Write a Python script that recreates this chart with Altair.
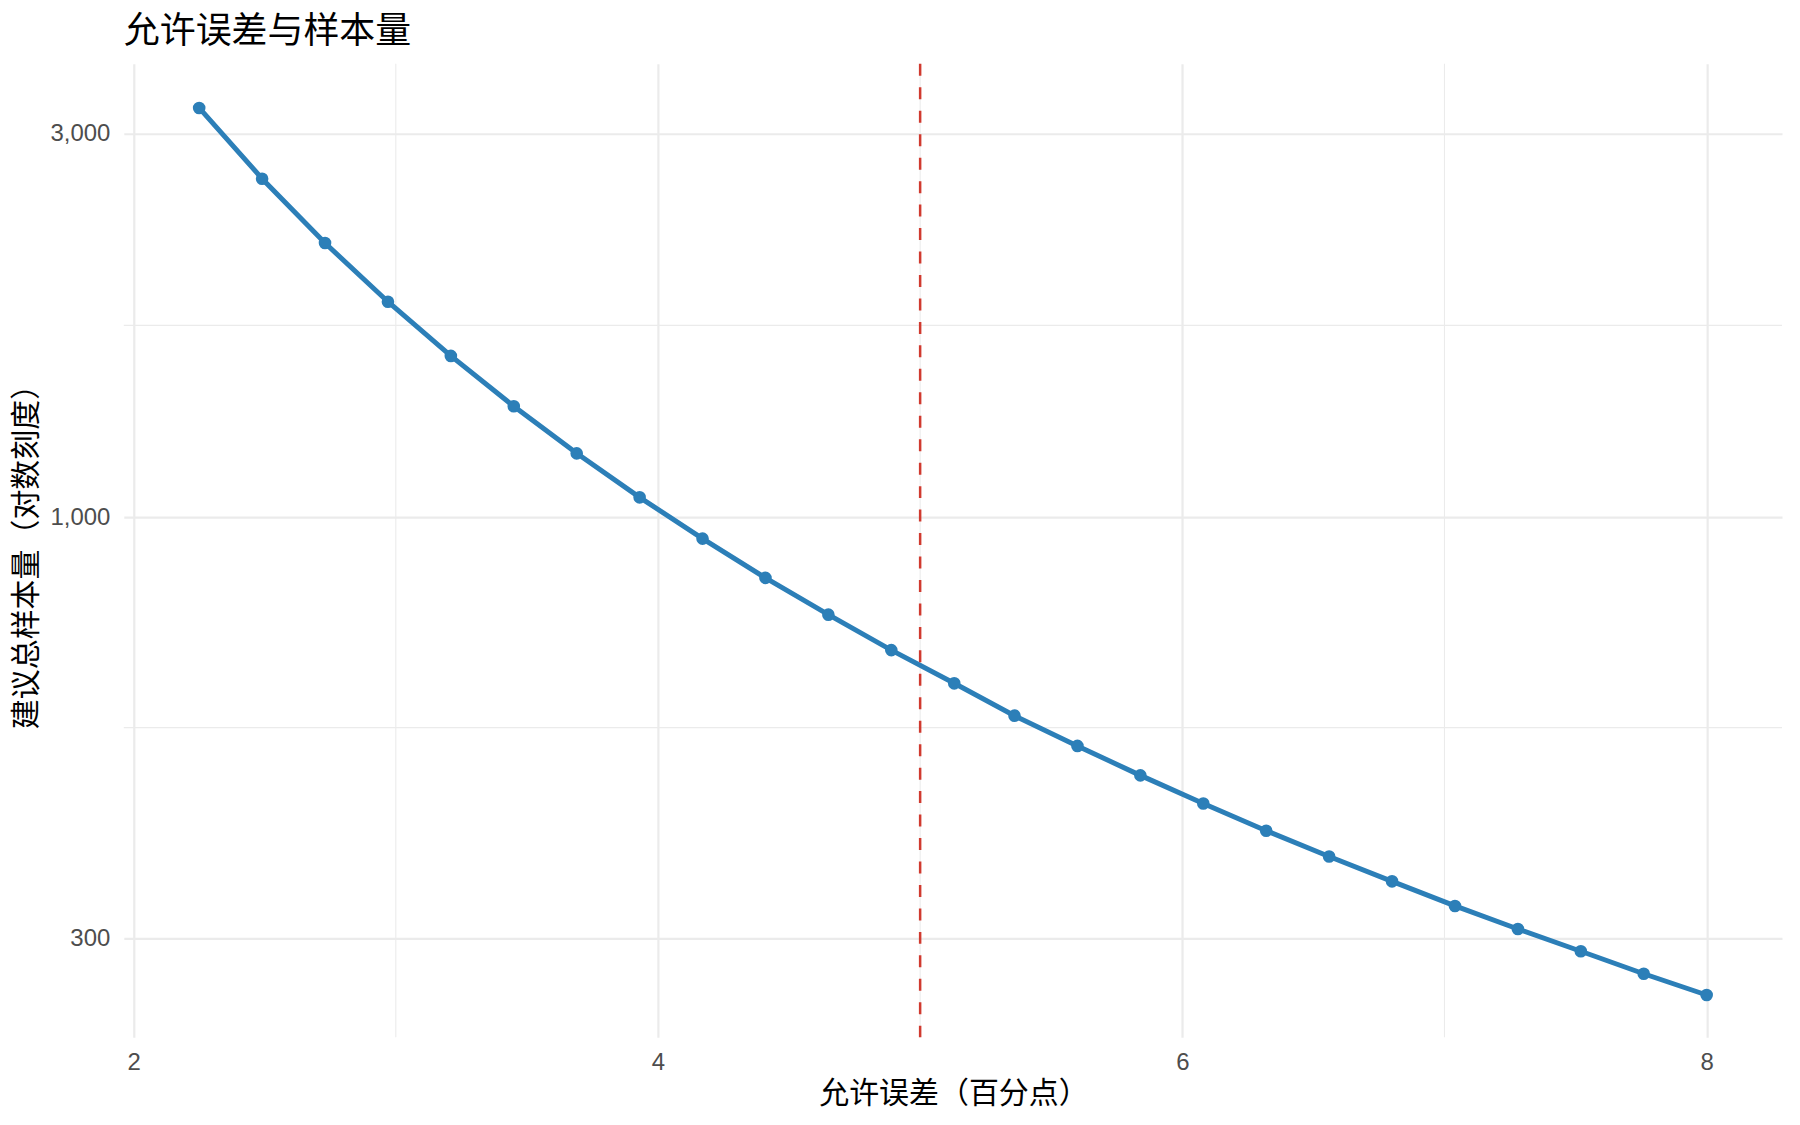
import altair as alt
import pandas as pd

# Data
margin_pct = [2.25, 2.49, 2.73, 2.97, 3.21, 3.45, 3.69, 3.93, 4.17, 4.41, 4.65, 4.89,
              5.13, 5.36, 5.60, 5.84, 6.08, 6.32, 6.56, 6.80, 7.04, 7.28, 7.52, 7.76, 8.00]
sample_n = [3226, 2635, 2192, 1853, 1587, 1374, 1201, 1059, 941, 841, 757, 684,
            622, 567, 520, 478, 441, 408, 379, 353, 329, 308, 289, 271, 255]
ref_margin = [5]
x_ticks = [2, 4, 6, 8]
x_minor = [3, 5, 7]
y_ticks = [300, 1000, 3000]
y_minor = [548, 1732]

df = pd.DataFrame({"m": margin_pct, "n": sample_n})
df_ref = pd.DataFrame({"m": ref_margin})
df_xm = pd.DataFrame({"m": x_minor})
df_ym = pd.DataFrame({"n": y_minor})

CJK = "Noto Sans CJK SC"
LAT = "Liberation Sans"
BLUE = "#2c7fb8"
GRID = "#ebebeb"

xscale = alt.Scale(domain=[1.9625, 8.2875], nice=False, zero=False)
yscale = alt.Scale(type="log", domain=[226, 3660], nice=False, zero=False)

x_axis = alt.Axis(
    values=x_ticks, title="允许误差（百分点）", titleFont=CJK, titleFontSize=30,
    titleFontWeight="normal", titleColor="black", titleX=831, titleY=56,
    titleBaseline="middle", titleAlign="center",
    labelFont=LAT, labelFontSize=24, labelColor="#4d4d4d", labelPadding=13,
    ticks=False, domain=False, grid=True, gridColor=GRID, gridWidth=2.2,
)
y_axis = alt.Axis(
    values=y_ticks, format=",", title="建议总样本量（对数刻度）", titleFont=CJK,
    titleFontSize=30, titleFontWeight="normal", titleColor="black",
    titleAngle=270, titleX=-97, titleY=486, titleBaseline="middle", titleAlign="center",
    labelFont=LAT, labelFontSize=24, labelColor="#4d4d4d", labelPadding=14,
    ticks=False, domain=False, grid=True, gridColor=GRID, gridWidth=2.2,
)

base_x = alt.X("m:Q", scale=xscale, axis=x_axis)

grid_x = alt.Chart(df_xm).mark_rule(color=GRID, strokeWidth=1.1).encode(
    x=alt.X("m:Q", scale=xscale, axis=x_axis)
)
grid_y = alt.Chart(df_ym).mark_rule(color=GRID, strokeWidth=1.1).encode(
    y=alt.Y("n:Q", scale=yscale, axis=y_axis)
)

line = alt.Chart(df).mark_line(color=BLUE, strokeWidth=5).encode(
    x=base_x, y=alt.Y("n:Q", scale=yscale, axis=y_axis)
)
pts = alt.Chart(df).mark_circle(color=BLUE, size=160, opacity=1).encode(
    x=base_x, y=alt.Y("n:Q", scale=yscale, axis=y_axis)
)
ref = alt.Chart(df_ref).mark_rule(color="#d03a2f", strokeWidth=2.5, strokeDash=[12, 11.5]).encode(
    x=alt.X("m:Q", scale=xscale, axis=x_axis)
)

chart = alt.layer(grid_x, grid_y, line, pts, ref).properties(
    width=1661,
    height=975,
    padding={"left": 116, "top": 55, "right": 10, "bottom": 86},
    autosize=alt.AutoSizeParams(type="none"),
    title=alt.Title("允许误差与样本量", anchor="start", frame="group", font=CJK,
                    fontSize=36, fontWeight="normal", color="black", offset=12),
).configure(background="white").configure_view(strokeWidth=0, stroke="transparent")

chart.save("out.html", embed_options={"renderer": "svg", "actions": False})
